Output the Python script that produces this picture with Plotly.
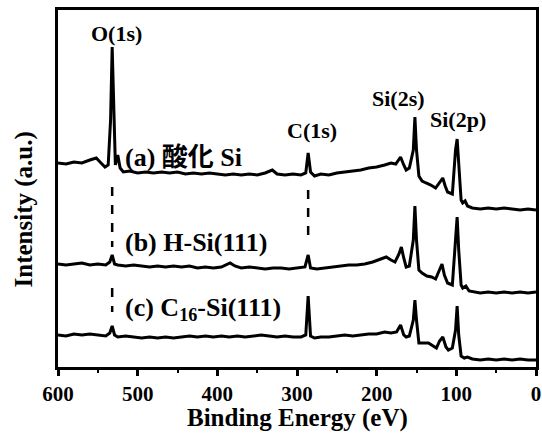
import plotly.graph_objects as go

# ---- data (binding energy in eV, intensity in arbitrary units, spectra stacked) ----
energy_a = [600, 590, 580, 570, 560, 552, 546, 541, 537, 534, 532, 530, 528, 525, 522, 518,
            510, 500, 490, 480, 470, 460, 450, 440, 430, 420, 410, 400, 390, 380, 370, 360,
            350, 340, 331, 325, 315, 305, 295, 289, 286, 283, 278, 270, 260, 250, 240, 230,
            220, 210, 200, 190, 182, 176, 170, 166, 163, 159, 154, 152, 150, 147, 143, 138,
            132, 126, 121, 117, 114, 111, 105, 101, 99, 97, 94, 92, 89, 86, 80, 70, 60, 50,
            40, 30, 20, 10, 0]
intensity_a = [204, 203, 205, 204, 207, 209, 204, 200, 202, 247, 320, 257, 202, 212, 199, 195,
               196, 194, 195, 194, 195, 194, 195, 193, 194, 193, 194, 193, 192, 193, 192, 193,
               192, 194, 197, 193, 192, 193, 192, 194, 214, 195, 191, 193, 192, 194, 195, 196,
               197, 199, 200, 202, 204, 203, 210, 202, 197, 199, 217, 250, 217, 191, 186, 184,
               182, 179, 184, 189, 181, 175, 173, 217, 228, 207, 167, 164, 166, 161, 159, 158,
               159, 158, 159, 158, 157, 158, 157]

energy_b = [600, 590, 580, 570, 560, 550, 540, 535, 532, 529, 525, 515, 505, 495, 485, 475,
            465, 455, 445, 435, 425, 415, 405, 395, 384, 378, 370, 360, 350, 340, 330, 320,
            310, 300, 290, 286, 283, 275, 265, 255, 245, 235, 225, 215, 205, 195, 188, 182,
            177, 172, 169, 166, 163, 159, 154, 152, 150, 147, 143, 137, 131, 126, 121, 118,
            115, 111, 105, 101, 99, 97, 94, 92, 88, 84, 78, 70, 60, 50, 40, 30, 20, 10, 0]
intensity_b = [103, 102, 103, 104, 102, 103, 102, 105, 112, 103, 102, 101, 102, 101, 100, 101,
               100, 101, 100, 101, 99, 100, 99, 100, 104, 101, 99, 100, 99, 98, 99, 99,
               98, 99, 100, 112, 99, 98, 99, 100, 101, 102, 102, 103, 105, 108, 110, 107,
               105, 113, 120, 109, 100, 101, 127, 161, 127, 97, 94, 91, 90, 88, 97, 103,
               92, 84, 82, 122, 150, 117, 82, 79, 81, 76, 75, 74, 75, 74, 75, 74, 75, 74, 75]

energy_c = [600, 590, 580, 570, 560, 550, 540, 535, 532, 529, 525, 515, 505, 495, 485, 475,
            465, 455, 445, 435, 425, 415, 405, 395, 385, 375, 365, 355, 345, 335, 325, 315,
            305, 295, 289, 286, 283, 278, 270, 260, 250, 240, 230, 220, 210, 200, 190, 182,
            175, 170, 166, 163, 159, 154, 152, 150, 147, 135, 125, 121, 117, 113, 110, 105,
            101, 99, 97, 94, 90, 86, 80, 70, 60, 50, 40, 30, 20, 10, 0]
intensity_c = [32, 31, 33, 32, 33, 32, 31, 34, 41, 32, 30, 31, 30, 29, 30, 29,
               30, 29, 30, 31, 30, 31, 30, 31, 30, 31, 30, 31, 32, 31, 30, 31,
               30, 30, 32, 71, 31, 29, 30, 30, 31, 32, 31, 32, 33, 33, 35, 34,
               35, 42, 32, 30, 31, 47, 67, 47, 24, 24, 19, 26, 30, 20, 17, 19,
               37, 61, 32, 11, 9, 10, 8, 7, 8, 7, 8, 7, 8, 7, 7]

peak_labels = ["O(1s)", "C(1s)", "Si(2s)", "Si(2p)"]
peak_label_energy = [527, 281, 173, 98]
peak_label_intensity = [334, 237, 269, 248]

sample_labels = ["(a) 酸化 Si", "(b) H-Si(111)", "(c) C<sub>16</sub>-Si(111)"]
sample_label_energy = [518, 518, 518]
sample_label_intensity = [210, 125, 58]

# reference lines (eV, from-intensity, to-intensity)
ref_line_energy = [532, 532, 286]
ref_line_from = [180, 79, 177]
ref_line_to = [120, 55, 124]

x_ticks = [600, 500, 400, 300, 200, 100, 0]

FONT = "Liberation Serif"
FONT_CJK = "Liberation Serif, Noto Sans CJK JP"

fig = go.Figure()
for e, i in [(energy_a, intensity_a), (energy_b, intensity_b), (energy_c, intensity_c)]:
    fig.add_trace(go.Scatter(x=e, y=i, mode="lines",
                             line=dict(color="black", width=3),
                             showlegend=False, hoverinfo="skip"))

for xe, y0, y1 in zip(ref_line_energy, ref_line_from, ref_line_to):
    fig.add_shape(type="line", xref="x", yref="y", x0=xe, x1=xe, y0=y0, y1=y1,
                  line=dict(color="black", width=2.5, dash="dash"))

for t, xe, yi in zip(peak_labels, peak_label_energy, peak_label_intensity):
    fig.add_annotation(x=xe, y=yi, xref="x", yref="y", text="<b>%s</b>" % t,
                       showarrow=False, font=dict(family=FONT, size=22, color="black"),
                       xanchor="center", yanchor="middle")

for t, xe, yi in zip(sample_labels, sample_label_energy, sample_label_intensity):
    fig.add_annotation(x=xe, y=yi, xref="x", yref="y", text="<b>%s</b>" % t,
                       showarrow=False, font=dict(family=FONT_CJK, size=26, color="black"),
                       xanchor="left", yanchor="middle")

fig.add_annotation(x=0.5, y=-0.143, xref="paper", yref="paper",
                   text="<b>Binding Energy (eV)</b>", showarrow=False,
                   font=dict(family=FONT, size=25, color="black"),
                   xanchor="center", yanchor="middle")
fig.add_annotation(x=-0.072, y=0.44, xref="paper", yref="paper",
                   text="<b>Intensity (a.u.)</b>", showarrow=False, textangle=-90,
                   font=dict(family=FONT, size=25, color="black"),
                   xanchor="center", yanchor="middle")

fig.update_layout(
    width=542, height=437,
    margin=dict(l=58, r=6, t=10, b=70, autoexpand=False),
    paper_bgcolor="white", plot_bgcolor="white",
    font=dict(family=FONT, color="black"),
    xaxis=dict(range=[600, 0], tickvals=x_ticks,
               ticktext=["<b>%d</b>" % v for v in x_ticks],
               ticks="outside", ticklen=6, tickwidth=2.5, tickcolor="black",
               minor=dict(dtick=50, ticks="outside", ticklen=3, tickwidth=2, tickcolor="black"),
               showline=True, linewidth=3, linecolor="black", mirror=True,
               showgrid=False, zeroline=False, automargin=False,
               tickfont=dict(family=FONT, size=21, color="black")),
    yaxis=dict(range=[0, 357], showticklabels=False, ticks="",
               showline=True, linewidth=3, linecolor="black", mirror=True,
               showgrid=False, zeroline=False, automargin=False),
)

fig.write_html("out.html", config={"displayModeBar": False},
               post_script="document.body.style.margin='0';document.body.style.padding='0';")
